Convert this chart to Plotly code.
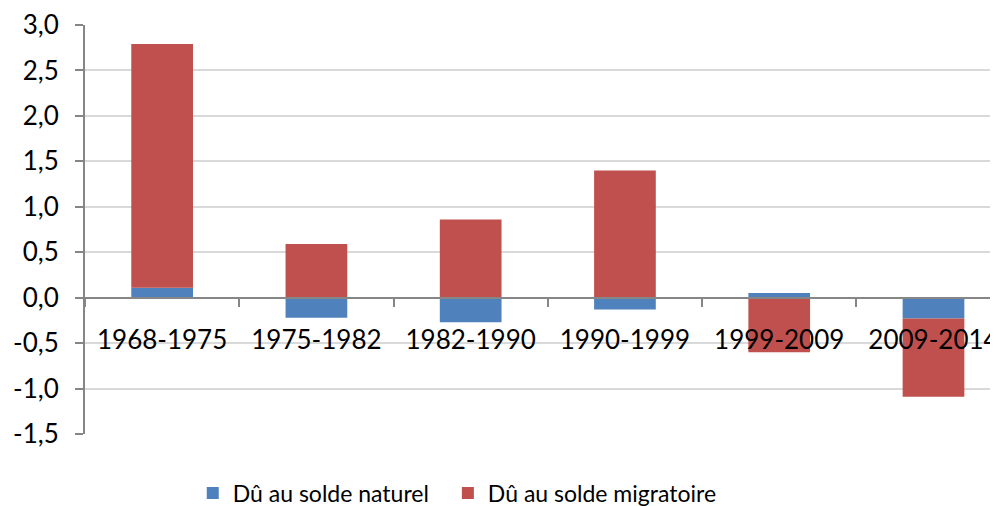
import plotly.graph_objects as go

categories = ["1968-1975", "1975-1982", "1982-1990", "1990-1999", "1999-2009", "2009-2014"]
solde_naturel = [0.11, -0.22, -0.27, -0.13, 0.05, -0.23]
solde_migratoire = [2.68, 0.59, 0.86, 1.40, -0.60, -0.86]
y_ticks = [3.0, 2.5, 2.0, 1.5, 1.0, 0.5, 0.0, -0.5, -1.0, -1.5]
y_tick_labels = ["3,0", "2,5", "2,0", "1,5", "1,0", "0,5", "0,0", "-0,5", "-1,0", "-1,5"]

FONT = "Lato"
fig = go.Figure()
fig.add_trace(go.Bar(x=categories, y=solde_naturel, name="Dû au solde naturel",
                     marker=dict(color="#4F81BD", line=dict(width=0)), legend="legend"))
fig.add_trace(go.Bar(x=categories, y=solde_migratoire, name="Dû au solde migratoire",
                     marker=dict(color="#C0504D", line=dict(width=0)), legend="legend2"))

legend_common = dict(orientation="h", xanchor="left", y=-0.092, yanchor="top",
                     font=dict(size=23), itemwidth=30, bgcolor="rgba(0,0,0,0)")

fig.update_layout(
    width=998, height=506,
    barmode="relative", bargap=0.6,
    margin=dict(l=77, r=0, t=17, b=80, autoexpand=False),
    plot_bgcolor="white", paper_bgcolor="white",
    font=dict(family=FONT, size=22, color="black"),
    showlegend=True,
    legend=dict(x=0.117, **legend_common),
    legend2=dict(x=0.394, **legend_common),
    xaxis=dict(type="category", range=[-0.5, 5.47], anchor="free", position=1.5 / 4.5,
               showline=True, linecolor="#868686", linewidth=2,
               ticks="outside", ticklen=8, tickcolor="#868686", tickwidth=2,
               tickson="boundaries", ticklabelstandoff=19, showgrid=False,
               automargin=False, tickfont=dict(size=26)),
    yaxis=dict(range=[-1.5, 3.0], tickvals=y_ticks, ticktext=y_tick_labels,
               showline=True, linecolor="#868686", linewidth=2,
               ticks="outside", ticklen=8, tickcolor="#868686", tickwidth=2,
               ticklabelstandoff=11,
               showgrid=True, gridcolor="#D9D9D9", gridwidth=2, zeroline=False,
               automargin=False, tickfont=dict(size=26)),
)
fig.write_html("out.html")
